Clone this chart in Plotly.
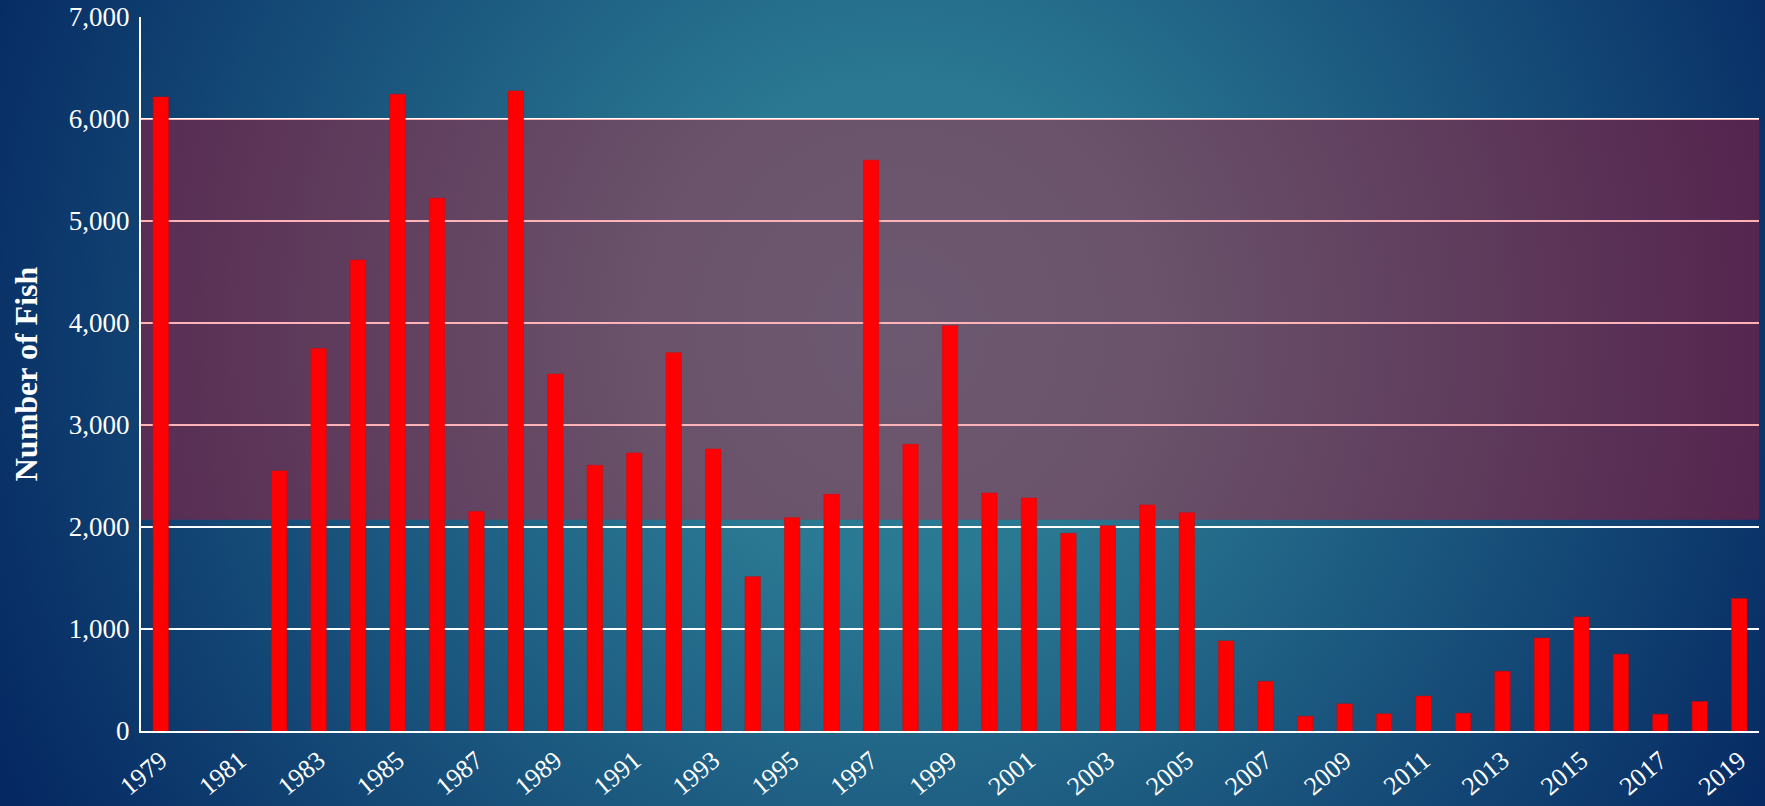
import base64
import plotly.graph_objects as go

# ---- data ----
years = list(range(1979, 2020))
fish_counts = [
    6216, 0, 0, 2550, 3750, 4617, 6243, 5223, 2152, 6275,
    3499, 2605, 2726, 3709, 2765, 1513, 2091, 2320, 5596, 2811,
    3974, 2333, 2284, 1938, 2013, 2216, 2140, 883, 486, 144,
    266, 168, 342, 174, 585, 911, 1118, 753, 164, 289, 1299,
]
tick_years = list(range(1979, 2020, 2))
tick_labels = [str(y) for y in tick_years]
y_ticks = [0, 1000, 2000, 3000, 4000, 5000, 6000, 7000]
y_tick_labels = ["0", "1,000", "2,000", "3,000", "4,000", "5,000", "6,000", "7,000"]
band_low = 2070
band_high = 6000

# ---- layout geometry ----
W, H = 1765, 806
ML, MR, MT, MB = 141, 6, 17, 75
PW, PH = W - ML - MR, H - MT - MB

svg = f'''<svg xmlns="http://www.w3.org/2000/svg" width="{W}" height="{H}" viewBox="0 0 {W} {H}" preserveAspectRatio="none">
<defs><radialGradient id="g" gradientUnits="userSpaceOnUse" cx="900" cy="330" r="1000">
<stop offset="0" stop-color="#2d7f9a"/><stop offset="0.25" stop-color="#2a7892"/>
<stop offset="1" stop-color="#052862"/></radialGradient></defs>
<rect x="0" y="0" width="{W}" height="{H}" fill="url(#g)"/></svg>'''
bg_uri = "data:image/svg+xml;base64," + base64.b64encode(svg.encode()).decode()

x_lo = years[0] - 0.5
x_hi = years[-1] + 0.5

fig = go.Figure()
# shaded band (trace so it sits above the gridlines, tinting them)
fig.add_trace(go.Scatter(
    x=[x_lo - 0.08, x_hi, x_hi, x_lo - 0.08, x_lo - 0.08],
    y=[band_low, band_low, band_high, band_high, band_low],
    mode="lines", fill="toself", fillcolor="rgba(255,0,15,0.30)",
    line=dict(width=0), hoverinfo="skip", cliponaxis=False,
))
fig.add_trace(go.Bar(
    x=years, y=fish_counts,
    marker=dict(color="#ff0000", line=dict(color="#d40000", width=0.5)),
    width=0.39,
    hoverinfo="x+y",
))

fig.add_layout_image(dict(
    source=bg_uri, xref="paper", yref="paper",
    x=-ML / PW, y=1 + MT / PH, sizex=W / PW, sizey=H / PH,
    xanchor="left", yanchor="top", sizing="stretch", layer="below",
))

font_family = "Liberation Serif, Times New Roman, serif"
fig.update_layout(
    width=W, height=H,
    margin=dict(l=ML, r=MR, t=MT, b=MB, autoexpand=False),
    paper_bgcolor="#0a2f6a", plot_bgcolor="rgba(0,0,0,0)",
    font=dict(family=font_family, color="white"),
    showlegend=False,
    xaxis=dict(
        range=[x_lo, x_hi], tickvals=tick_years, ticktext=tick_labels,
        tickangle=-40, tickfont=dict(size=26, color="white", family=font_family),
        showgrid=False, zeroline=False, showline=True, linecolor="white", linewidth=2,
        ticks="", ticklabelstandoff=2, fixedrange=True,
    ),
    yaxis=dict(
        range=[0, 7000], tickvals=y_ticks, ticktext=y_tick_labels,
        tickfont=dict(size=27, color="white", family=font_family),
        showgrid=True, gridcolor="white", gridwidth=2,
        zeroline=False, showline=True, linecolor="white", linewidth=2,
        ticks="", ticklabelstandoff=4,
        title=dict(text="<b>Number of Fish</b>", font=dict(size=32, color="white", family=font_family),
                   standoff=22),
        automargin=False,
    ),
)

fig.write_html("out.html")
